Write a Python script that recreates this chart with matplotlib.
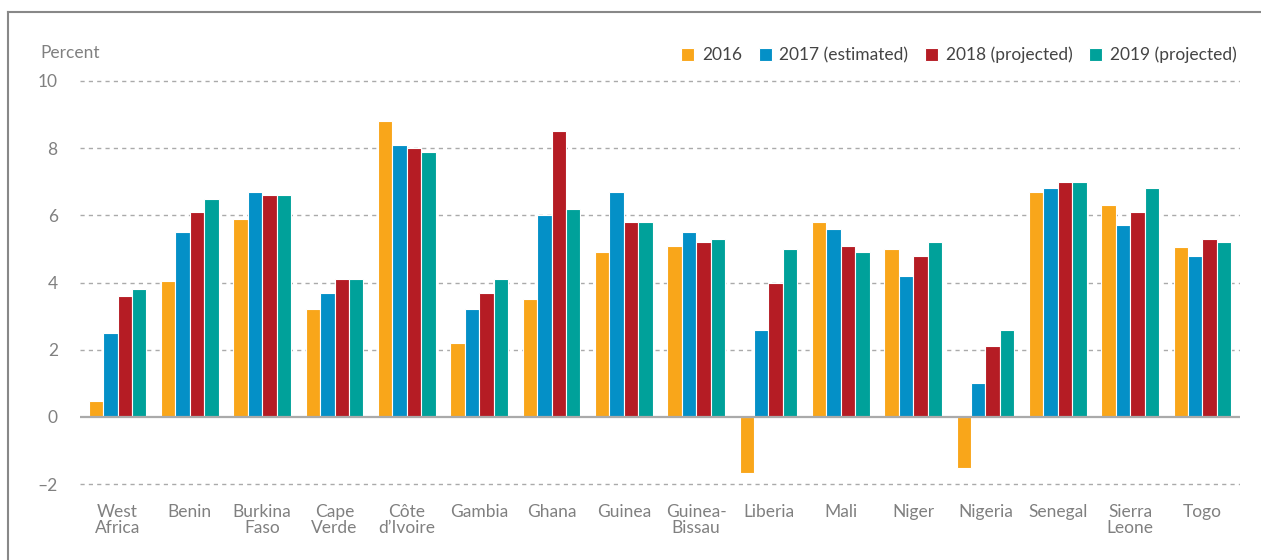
import matplotlib.pyplot as plt
import numpy as np
from matplotlib.lines import Line2D

# Real GDP growth, West Africa
countries = ["West\nAfrica", "Benin", "Burkina\nFaso", "Cape\nVerde", "Côte\nd\u2019Ivoire",
             "Gambia", "Ghana", "Guinea", "Guinea-\nBissau", "Liberia", "Mali", "Niger",
             "Nigeria", "Senegal", "Sierra\nLeone", "Togo"]
series_labels = ["2016", "2017 (estimated)", "2018 (projected)", "2019 (projected)"]
growth_2016 = [0.48, 4.05, 5.9, 3.2, 8.8, 2.2, 3.5, 4.9, 5.1, -1.67, 5.8, 5.0, -1.52, 6.7, 6.3, 5.05]
growth_2017 = [2.5, 5.5, 6.7, 3.7, 8.1, 3.2, 6.0, 6.7, 5.5, 2.6, 5.6, 4.2, 1.0, 6.8, 5.7, 4.8]
growth_2018 = [3.6, 6.1, 6.6, 4.1, 8.0, 3.7, 8.5, 5.8, 5.2, 4.0, 5.1, 4.8, 2.1, 7.0, 6.1, 5.3]
growth_2019 = [3.8, 6.5, 6.6, 4.1, 7.9, 4.1, 6.2, 5.8, 5.3, 5.0, 4.9, 5.2, 2.6, 7.0, 6.8, 5.2]
yticks = [-2, 0, 2, 4, 6, 8, 10]

colors = ["#F9A61A", "#0490C7", "#B51C24", "#00A19A"]
text_gray = "#808080"

plt.rcParams["font.family"] = ["Lato", "DejaVu Sans"]

fig = plt.figure(figsize=(12.61, 5.6), dpi=100)
ax = fig.add_axes([0.0634, 0.1296, 0.920, 0.7318])

x = np.arange(len(countries))
width = 0.2
all_series = [growth_2016, growth_2017, growth_2018, growth_2019]
for i, (vals, lab, col) in enumerate(zip(all_series, series_labels, colors)):
    ax.bar(x + (i - 1.5) * width, vals, width, color=col, label=lab,
           edgecolor="white", linewidth=0.8, zorder=3)

ax.set_xlim(-0.52, 15.52)
ax.set_ylim(-2.1, 10.1)
ax.set_yticks(yticks)
ax.set_yticklabels([str(t).replace("-", "\u2013") for t in yticks])
ax.set_xticks(x)
ax.set_xticklabels(countries, linespacing=1.0)

for t in yticks:
    if t == 0:
        ax.axhline(0, color="#aaaaaa", linewidth=1.6, zorder=4)
    else:
        ax.axhline(t, color="#aaaaaa", linewidth=1.0, linestyle=(0, (3, 3)), zorder=1)

for s in ax.spines.values():
    s.set_visible(False)
ax.tick_params(axis="both", length=0, colors=text_gray, labelsize=12.5)
ax.tick_params(axis="x", pad=12)
ax.tick_params(axis="y", pad=16)

fig.text(40 / 1261, 1 - 53 / 560, "Percent", color=text_gray, fontsize=12.5, va="center")

leg = ax.legend(loc="lower right", bbox_to_anchor=(0.997, 1.035), ncol=4, frameon=False,
                fontsize=12.5, handlelength=0.75, handleheight=0.75,
                handletextpad=0.45, columnspacing=0.95, borderaxespad=0, borderpad=0)
for txt in leg.get_texts():
    txt.set_color("#444444")

# outer frame
fx = 8 / 1261
fy = 1 - 12 / 560
fig.add_artist(Line2D([fx, fx], [0, fy], color="#888888", linewidth=1.5))
fig.add_artist(Line2D([fx, 1], [fy, fy], color="#888888", linewidth=1.5))

fig.savefig("out.png", dpi=100)
